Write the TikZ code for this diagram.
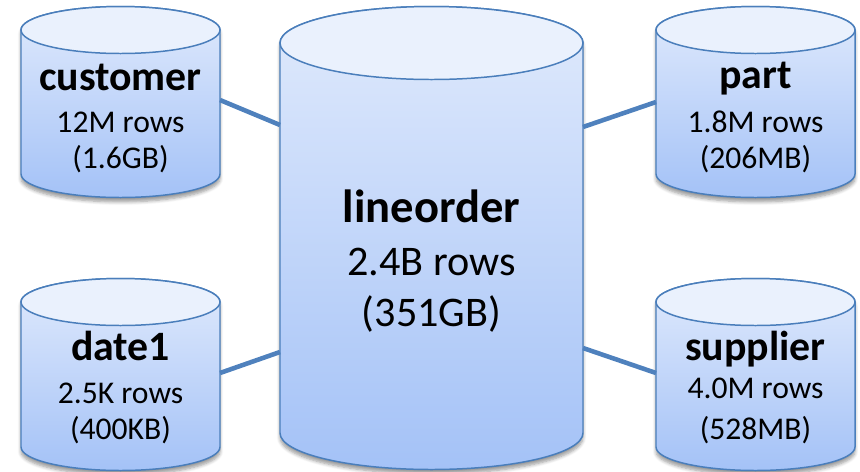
\documentclass[tikz,border=0pt]{standalone}
\usepackage{fontspec}
\setmainfont{Carlito}
\usepackage{tikz}
\usetikzlibrary{shadows.blur}

\definecolor{cylline}{HTML}{4A7EBB}
\definecolor{linkblue}{HTML}{4F81BD}
\definecolor{cyltop}{HTML}{E0EAFC}
\definecolor{cylbot}{HTML}{A4C2F7}
\definecolor{cyllid}{HTML}{EAF1FD}

\tikzset{
  cylbody/.style={draw=cylline, line width=0.85pt, top color=cyltop, bottom color=cylbot,
    blur shadow={shadow xshift=0pt, shadow yshift=-2.5pt, shadow blur steps=6, shadow opacity=40}},
  cyllid/.style={draw=cylline, line width=0.85pt, fill=cyllid},
  link/.style={draw=linkblue, line width=2.6pt},
  headtxt/.style={anchor=base, font=\fontsize{23.8}{28}\selectfont\bfseries},
  rowtxt/.style={anchor=base, font=\fontsize{18}{21}\selectfont},
  bigheadtxt/.style={anchor=base, font=\fontsize{26.5}{30}\selectfont\bfseries},
  bigrowtxt/.style={anchor=base, font=\fontsize{24}{28}\selectfont}
}

% drum: centre x, top centre y, bottom centre y, radius x, radius y
\newcommand{\drum}[5]{%
  \path[cylbody] (#1-#4,#2) -- (#1-#4,#3) arc (180:360:#4 and #5) -- (#1+#4,#2) arc (0:180:#4 and #5) -- cycle;
  \path[cyllid] (#1,#2) ellipse (#4 and #5);
}

\begin{document}
\begin{tikzpicture}[x=0.02cm, y=0.02cm]
            \useasboundingbox (0,0) rectangle (860,-471);
            % tables
            \drum{120.5}{-30}{-174}{99.5}{23.5}
            \drum{755.5}{-30}{-174}{99.5}{23.5}
            \drum{120.5}{-302}{-447}{99.5}{23.5}
            \drum{755.5}{-302}{-447}{99.5}{23.5}
            \drum{431.5}{-43}{-433}{151.5}{36.5}
            % connector ends
            \coordinate (customer-e) at (220,-100);
            \coordinate (part-w) at (656,-102);
            \coordinate (date-e) at (220,-373);
            \coordinate (supplier-w) at (656,-373);
            \coordinate (lineorder-nw) at (280,-125);
            \coordinate (lineorder-ne) at (583,-127);
            \coordinate (lineorder-sw) at (280,-352);
            \coordinate (lineorder-se) at (583,-348);
            \draw[link] (customer-e) -- (lineorder-nw);
            \draw[link] (part-w) -- (lineorder-ne);
            \draw[link] (date-e) -- (lineorder-sw);
            \draw[link] (supplier-w) -- (lineorder-se);
            % labels
            \node[headtxt] (customer) at (120.5,-90) {customer};
            \node[rowtxt] (customer-rows) at (120.5,-132) {12M rows};
            \node[rowtxt] (customer-size) at (120.5,-168) {(1.6GB)};
            \node[headtxt] (part) at (755.5,-88) {part};
            \node[rowtxt] (part-rows) at (755.5,-132) {1.8M rows};
            \node[rowtxt] (part-size) at (755.5,-168) {(206MB)};
            \node[headtxt] (date) at (120.5,-360) {date1};
            \node[rowtxt] (date-rows) at (120.5,-403) {2.5K rows};
            \node[rowtxt] (date-size) at (120.5,-439) {(400KB)};
            \node[headtxt] (supplier) at (755.5,-360) {supplier};
            \node[rowtxt] (supplier-rows) at (755.5,-398) {4.0M rows};
            \node[rowtxt] (supplier-size) at (755.5,-439) {(528MB)};
            \node[bigheadtxt] (lineorder) at (431.5,-222) {lineorder};
            \node[bigrowtxt] (lineorder-rows) at (431.5,-275) {2.4B rows};
            \node[bigrowtxt] (lineorder-size) at (431.5,-326) {(351GB)};
\end{tikzpicture}
\end{document}
